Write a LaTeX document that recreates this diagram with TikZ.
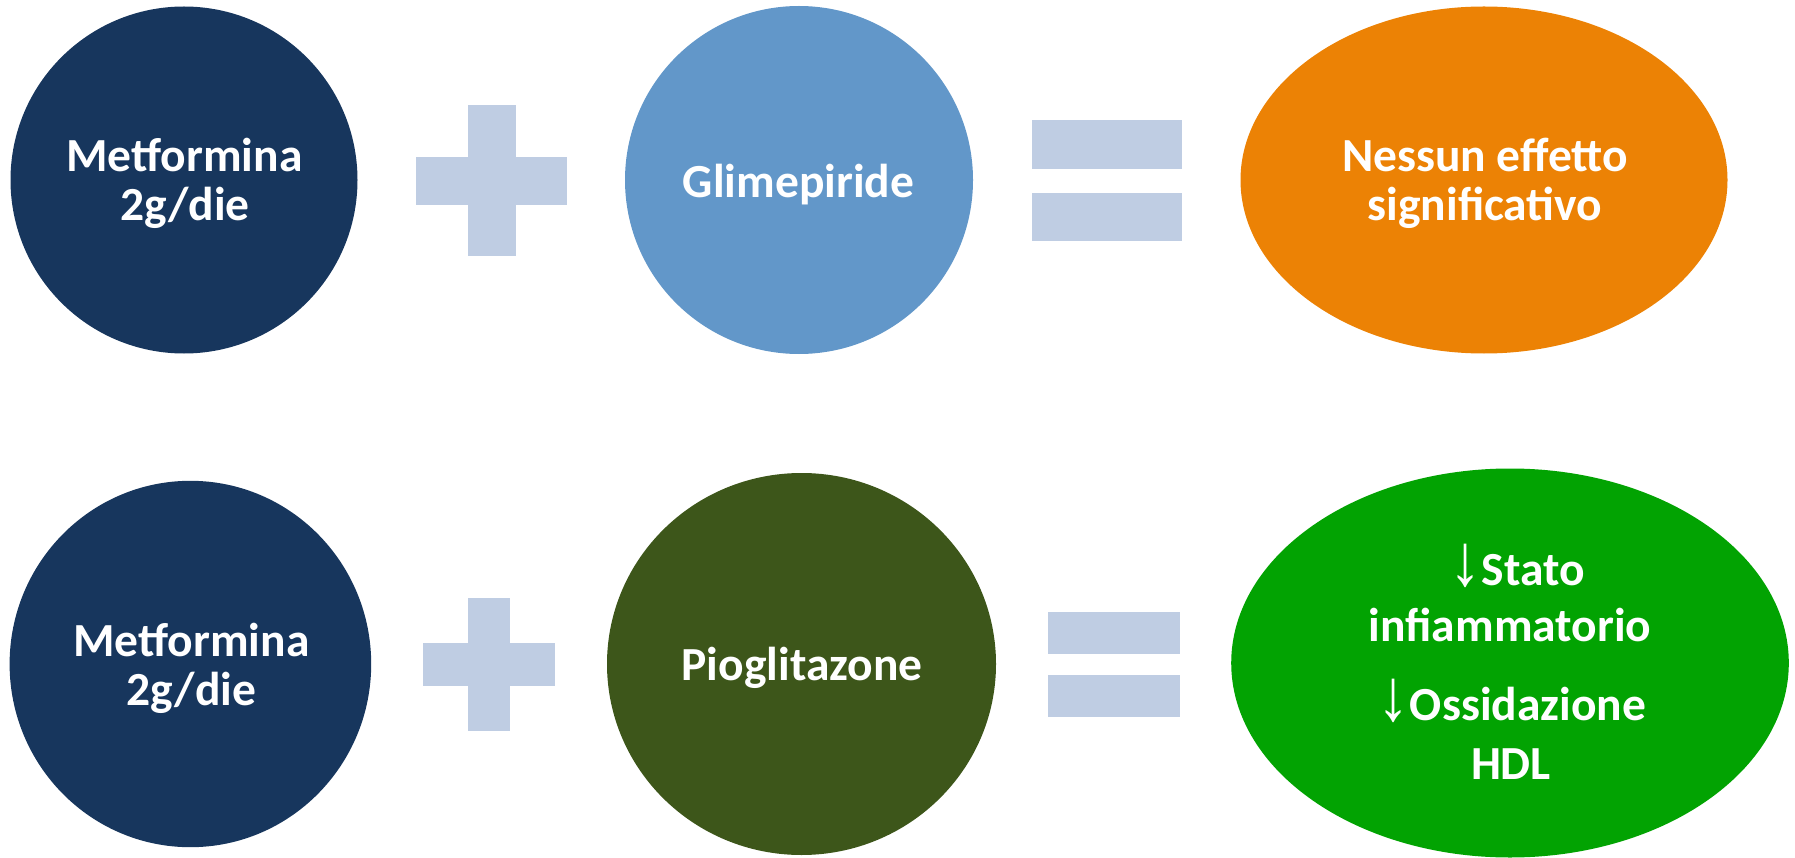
\documentclass[tikz,border=0pt]{standalone}
\usepackage{fontspec}
\usepackage{graphicx}
\setmainfont{Carlito}
\newfontfamily\arrowfont{Liberation Sans}
\usetikzlibrary{shapes.geometric}
\definecolor{navy}{HTML}{17365D}
\definecolor{lightblue}{HTML}{6297C9}
\definecolor{orangeC}{HTML}{EC8205}
\definecolor{olive}{HTML}{3D561A}
\definecolor{greenC}{HTML}{02A302}
\definecolor{signC}{HTML}{BFCDE3}
\newcommand{\downarr}{\scalebox{1.35}[1.55]{\arrowfont\mdseries ↓}}
\tikzset{
  blob/.style={ellipse, draw=none, inner sep=0pt},
  lbl/.style={text=white, anchor=base, inner sep=0pt, font=\fontsize{47.5}{56}\selectfont\bfseries},
  sign/.style={fill=signC, draw=none}
}
\begin{document}
\begin{tikzpicture}[x=1pt,y=-1pt]
\useasboundingbox (0,0) rectangle (1795,858);
% top row
\node[blob, fill=navy, minimum width=347pt, minimum height=347pt] (m1) at (184,180) {};
\node[blob, fill=lightblue, minimum width=348pt, minimum height=348pt] (g) at (799,180) {};
\node[blob, fill=orangeC, minimum width=487pt, minimum height=347pt] (ne) at (1484,180) {};
\fill[sign] (416.4,156.7) rectangle (566.8,204.7);
\fill[sign] (468,105.3) rectangle (515.5,256);
\fill[sign] (1031.6,120.3) rectangle (1182,168.7);
\fill[sign] (1031.6,192.7) rectangle (1182,240.7);
\node[lbl] (m1a) at (184.5,172) {Metformina};
\node[lbl] (m1b) at (185,221) {2g/die};
\node[lbl] (ga) at (798.5,198) {Glimepiride};
\node[lbl] (nea) at (1485,171.7) {Nessun effetto};
\node[lbl] (neb) at (1485,220.7) {significativo};
% bottom row
\node[blob, fill=navy, minimum width=361.6pt, minimum height=366.4pt] (m2) at (190.4,664) {};
\node[blob, fill=olive, minimum width=389pt, minimum height=382pt] (p) at (801.5,664) {};
\node[blob, fill=greenC, minimum width=557.6pt, minimum height=389pt] (gr) at (1510,663) {};
\fill[sign] (422.9,643.3) rectangle (555,685.7);
\fill[sign] (468,598.3) rectangle (510,730.7);
\fill[sign] (1047.5,611.7) rectangle (1180,654);
\fill[sign] (1047.5,675) rectangle (1180,717.3);
\node[lbl] (m2a) at (191.4,656) {Metformina};
\node[lbl] (m2b) at (191.4,705) {2g/die};
\node[lbl] (pa) at (802,680) {Pioglitazone};
\node[lbl] (gra) at (1517,585) {\downarr Stato};
\node[lbl] (grb) at (1510,641) {infiammatorio};
\node[lbl] (grc) at (1512,720) {\downarr Ossidazione};
\node[lbl] (grd) at (1511,779) {HDL};
\end{tikzpicture}
\end{document}
